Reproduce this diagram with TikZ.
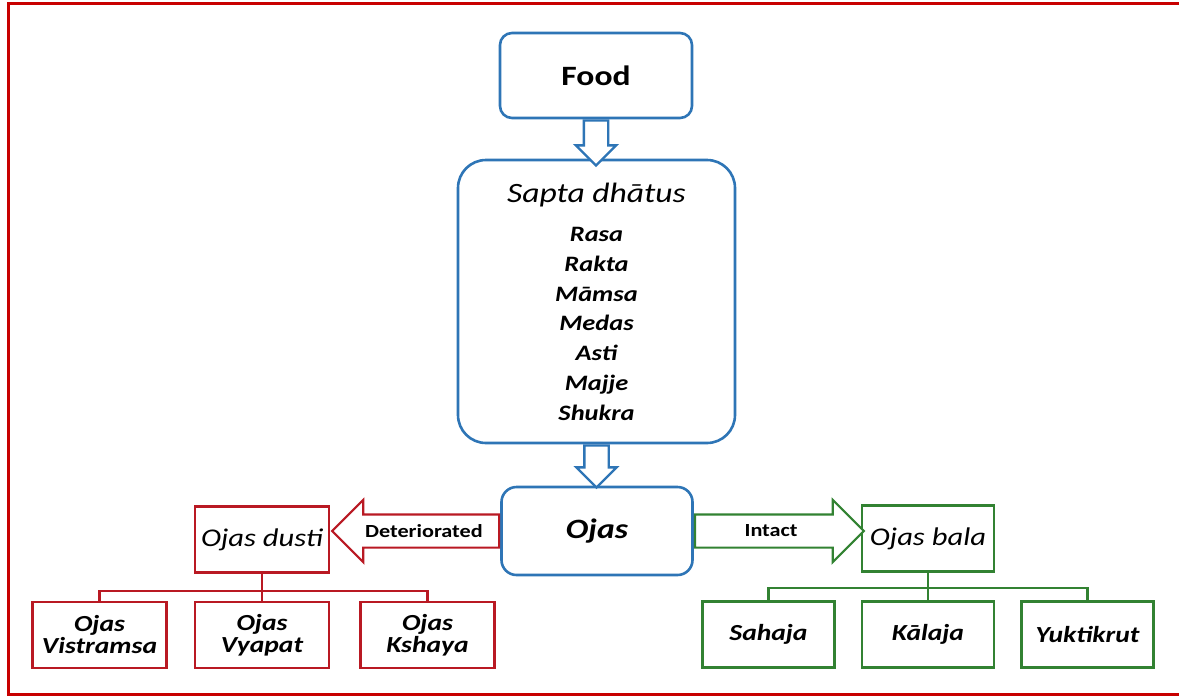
\documentclass[tikz,border=0pt]{standalone}
\usepackage{fontspec}
\setmainfont{Carlito}[FakeStretch=1.2]
\usetikzlibrary{shapes.arrows}
\definecolor{ojblue}{RGB}{46,117,182}
\definecolor{ojred}{RGB}{185,25,35}
\definecolor{framered}{RGB}{200,0,0}
\definecolor{ojgreen}{RGB}{50,130,50}
\tikzset{
  bluebox/.style={draw=ojblue,line width=2.6pt,fill=white,inner sep=0pt,align=center},
  redbox/.style={draw=ojred,line width=2.4pt,fill=white,inner sep=0pt,align=center,
    minimum width=134pt,minimum height=66pt},
  greenbox/.style={draw=ojgreen,line width=2.4pt,fill=white,inner sep=0pt,align=center,
    minimum width=132pt,minimum height=66pt},
  leaf/.style={font=\bfseries\itshape\fontsize{23pt}{22pt}\selectfont},
  downarr/.style={single arrow,draw=ojblue,line width=2.4pt,fill=white,inner xsep=0pt,
    inner ysep=11pt,single arrow head extend=8pt,rotate=-90,anchor=tail},
  sidearr/.style={single arrow,line width=2.2pt,fill=white,inner xsep=0pt,
    inner ysep=15.5pt,single arrow head extend=14.5pt,anchor=tail},
  armtxt/.style={font=\bfseries\fontsize{18.5pt}{20pt}\selectfont},
  redline/.style={draw=ojred,line width=2.4pt},
  greenline/.style={draw=ojgreen,line width=2.4pt},
}
\begin{document}
\begin{tikzpicture}[x=1pt,y=-1pt]
  \useasboundingbox (0,0) rectangle (1179,697);
  \draw[framered,line width=3pt] (1185,3) -- (8,3) -- (8,694) -- (1185,694);

  % main column
  \node[bluebox,rounded corners=12pt,minimum width=192pt,minimum height=85pt,
    font=\bfseries\fontsize{28pt}{32pt}\selectfont] (food) at (596,75.5) {Food};
  \node[bluebox,rounded corners=28pt,minimum width=277pt,minimum height=283pt,
    font=\bfseries\itshape\fontsize{22pt}{29.7pt}\selectfont] (sapta) at (596.5,301.5)
    {{\mdseries\fontsize{28pt}{30pt}\selectfont Sapta dhātus}\\[10pt]
     Rasa\\ Rakta\\ Māmsa\\ Medas\\ Asti\\ Majje\\ Shukra};
  \node[bluebox,rounded corners=15pt,minimum width=191pt,minimum height=88pt,
    font=\bfseries\itshape\fontsize{28pt}{32pt}\selectfont] (ojas) at (597,531) {Ojas};

  \node[downarr,minimum height=45pt] (arr1) at (food.south) {};
  \node[downarr,minimum height=42pt] (arr2) at (sapta.south) {};

  % two branches
  \node[redbox,font=\itshape\fontsize{25.5pt}{28pt}\selectfont] (dusti) at (262,539.5) {Ojas dusti};
  \node[greenbox,font=\itshape\fontsize{25.5pt}{28pt}\selectfont] (bala) at (928,538.5) {Ojas bala};

  \node[sidearr,draw=ojred,rotate=180,minimum height=167pt] (detarr) at (ojas.west) {};
  \node[armtxt] (dettxt) at (detarr.center) {Deteriorated};
  \node[sidearr,draw=ojgreen,minimum height=169pt] (intarr) at (ojas.east) {};
  \node[armtxt] (inttxt) at (intarr.center) {Intact};

  % leaves
  \node[redbox,leaf] (vistr) at (99.5,635) {Ojas\\Vistramsa};
  \node[redbox,leaf] (vyapat) at (262,635) {Ojas\\Vyapat};
  \node[redbox,leaf] (kshaya) at (427.5,635) {Ojas\\Kshaya};
  \node[greenbox,leaf] (sahaja) at (768.5,634.5) {Sahaja};
  \node[greenbox,leaf] (kalaja) at (928,634.5) {Kālaja};
  \node[greenbox,leaf] (yukti) at (1087.5,634.5) {Yuktikrut};

  \draw[redline] (dusti.south) -- ++(0,17.5) -| (vistr.north);
  \draw[redline] (dusti.south) -- (vyapat.north);
  \draw[redline] (dusti.south) -- ++(0,17.5) -| (kshaya.north);
  \draw[greenline] (bala.south) -- ++(0,15) -| (sahaja.north);
  \draw[greenline] (bala.south) -- (kalaja.north);
  \draw[greenline] (bala.south) -- ++(0,15) -| (yukti.north);
\end{tikzpicture}
\end{document}
